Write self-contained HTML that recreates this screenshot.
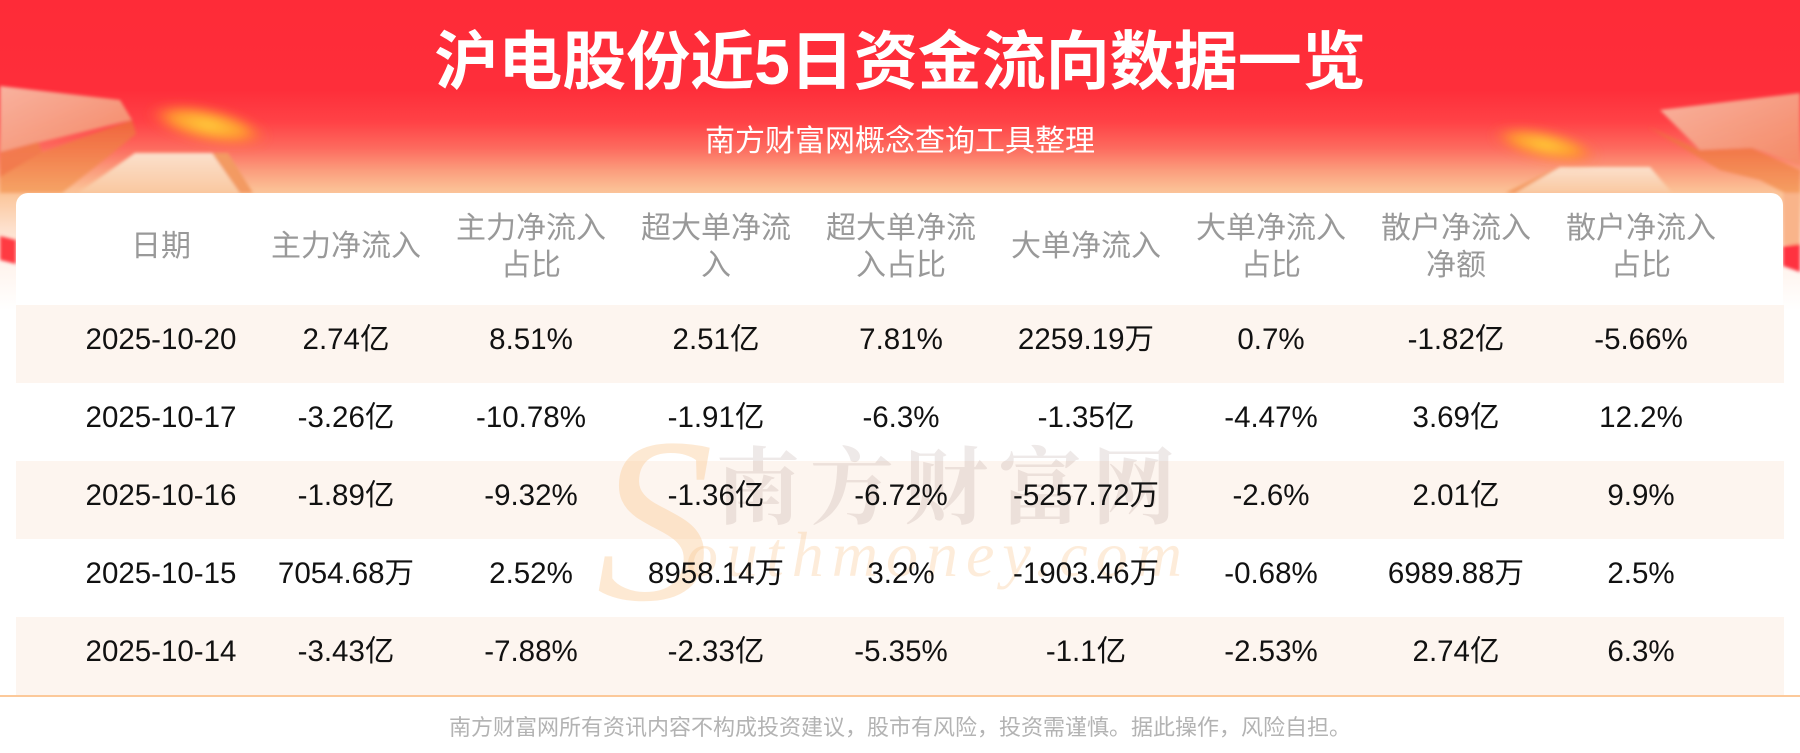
<!DOCTYPE html>
<html>
<head>
<meta charset="utf-8">
<style>
  html,body{margin:0;padding:0;}
  body{width:1800px;height:743px;position:relative;overflow:hidden;background:#fff;
       font-family:"Liberation Sans","Noto Sans CJK SC",sans-serif;}
  .abs{position:absolute;}
  .topbg{left:0;top:0;width:1800px;height:320px;
    background:linear-gradient(to bottom,#fe2b38 0px,#fe2e3a 90px,#ff4246 122px,#fd6a5e 148px,#fb9c7c 170px,#fbbd93 188px,#fbc79d 196px,#fde0cc 228px,#fff3ec 262px,#ffffff 310px);}
  .card{left:16px;top:193px;width:1767px;height:560px;background:#fff;border-radius:12px 12px 0 0;}
  .row{left:16px;width:1768px;height:78px;background:#fdf5ef;}
  .title{left:0;top:22px;width:1800px;text-align:center;font-size:64px;font-weight:bold;line-height:80px;color:#fff;
    font-family:"Liberation Sans","Noto Sans CJK SC",sans-serif;}
  .sub{left:0;top:122px;width:1800px;text-align:center;font-size:30px;line-height:40px;color:#fff;}
  .foot{left:0;top:713px;width:1800px;text-align:center;font-size:22px;line-height:30px;color:#b3b3b3;}
  .hd{width:185px;text-align:center;font-size:30px;line-height:37px;color:#999;white-space:nowrap;}
  .cell{width:185px;text-align:center;font-size:29.5px;line-height:69px;color:#111;white-space:nowrap;}
  .line{left:0;top:695px;width:1800px;height:2px;background:#fcc99a;}
</style>
</head>
<body>
<div class="abs topbg"></div>

<!-- decorations -->
<svg class="abs" style="left:0;top:0" width="1800" height="320" viewBox="0 0 1800 320">
  <defs>
    <filter id="b1" x="-20%" y="-20%" width="140%" height="140%"><feGaussianBlur stdDeviation="1.5"/></filter>
    <filter id="b4" x="-50%" y="-50%" width="200%" height="200%"><feGaussianBlur stdDeviation="5"/></filter>
    <linearGradient id="pk" x1="0" y1="0" x2="1" y2="1">
      <stop offset="0" stop-color="#f8b9a4"/><stop offset="1" stop-color="#f48a66"/>
    </linearGradient>
    <linearGradient id="org" x1="0" y1="0" x2="0" y2="1">
      <stop offset="0" stop-color="#f0683c"/><stop offset="1" stop-color="#f5a060"/>
    </linearGradient>
    <linearGradient id="blk" x1="0" y1="0" x2="0" y2="1">
      <stop offset="0" stop-color="#fbe0cc"/><stop offset="1" stop-color="#f9c8a0"/>
    </linearGradient>
    <radialGradient id="glow">
      <stop offset="0" stop-color="#ffd23c"/><stop offset="0.6" stop-color="#ff9a30"/><stop offset="1" stop-color="#ff6a3a" stop-opacity="0"/>
    </radialGradient>
  </defs>
  <!-- left arrow -->
  <g filter="url(#b1)">
    <polygon points="0,86 120,100 132,120 0,152" fill="url(#pk)" opacity="0.95"/>
    <polygon points="132,120 42,152 38,142 0,160 0,193 62,193 104,160 136,134" fill="url(#org)" opacity="0.9"/>
    <polygon points="0,152 38,142 42,152 0,177" fill="#f27a4c" opacity="0.9"/>
    <polygon points="135,153 212,153 240,193 78,193" fill="url(#blk)"/>
    <polygon points="212,153 228,153 253,193 240,193" fill="#f39a62"/>
    <polygon points="0,236 16,240 16,264 0,260" fill="#ff3b42"/>
  </g>
  <ellipse cx="208" cy="125" rx="62" ry="18" transform="rotate(12 208 125)" fill="url(#glow)" filter="url(#b4)"/>
  <!-- right arrow -->
  <g filter="url(#b1)">
    <polygon points="1660,110 1800,93 1800,165 1752,148 1700,150" fill="url(#pk)" opacity="0.95"/>
    <polygon points="1648,127 1700,150 1752,148 1800,170 1800,200 1785,193 1760,180 1720,170" fill="url(#org)" opacity="0.9"/>
    <polygon points="1560,167 1650,167 1672,193 1515,193" fill="url(#blk)"/>
    <polygon points="1515,193 1560,167 1548,172 1505,193" fill="#f39a62"/>
    <polygon points="1783,193 1800,193 1800,245 1783,245" fill="#f9b48a"/>
    <polygon points="1783,246 1800,244 1800,272 1783,266" fill="#ff3340"/>
  </g>
  <ellipse cx="1545" cy="145" rx="55" ry="15" transform="rotate(12 1545 145)" fill="url(#glow)" filter="url(#b4)"/>
</svg>

<div class="abs title">沪电股份近5日资金流向数据一览</div>
<div class="abs sub">南方财富网概念查询工具整理</div>

<div class="abs card"></div>

<div class="abs row" style="top:305px"></div>
<div class="abs row" style="top:461px"></div>
<div class="abs row" style="top:617px"></div>

<!-- watermark -->
<div class="abs" style="left:716px;top:436px;font-size:84px;line-height:92px;letter-spacing:10px;font-weight:bold;color:rgba(140,110,100,0.15);font-family:'Noto Serif CJK SC','Noto Sans CJK SC',serif;white-space:nowrap;">南方财富网</div>
<div class="abs" style="left:596px;top:410px;font-size:235px;line-height:220px;font-style:italic;color:rgba(249,196,140,0.38);font-family:'Liberation Serif',serif;">S</div>
<div class="abs" style="left:686px;top:515px;font-size:64px;line-height:80px;letter-spacing:8px;font-style:italic;color:rgba(249,196,140,0.32);font-family:'Liberation Serif',serif;white-space:nowrap;">outhmoney.com</div>

<div class="abs line"></div>

<!-- headers -->
<div class="abs hd" style="left:68.5px;top:228px">日期</div>
<div class="abs hd" style="left:253.5px;top:228px">主力净流入</div>
<div class="abs hd" style="left:438.5px;top:209.5px">主力净流入<br>占比</div>
<div class="abs hd" style="left:623.5px;top:209.5px">超大单净流<br>入</div>
<div class="abs hd" style="left:808.5px;top:209.5px">超大单净流<br>入占比</div>
<div class="abs hd" style="left:993.5px;top:228px">大单净流入</div>
<div class="abs hd" style="left:1178.5px;top:209.5px">大单净流入<br>占比</div>
<div class="abs hd" style="left:1363.5px;top:209.5px">散户净流入<br>净额</div>
<div class="abs hd" style="left:1548.5px;top:209.5px">散户净流入<br>占比</div>

<!-- row 1 -->
<div class="abs cell" style="left:68.5px;top:305px">2025-10-20</div>
<div class="abs cell" style="left:253.5px;top:305px">2.74亿</div>
<div class="abs cell" style="left:438.5px;top:305px">8.51%</div>
<div class="abs cell" style="left:623.5px;top:305px">2.51亿</div>
<div class="abs cell" style="left:808.5px;top:305px">7.81%</div>
<div class="abs cell" style="left:993.5px;top:305px">2259.19万</div>
<div class="abs cell" style="left:1178.5px;top:305px">0.7%</div>
<div class="abs cell" style="left:1363.5px;top:305px">-1.82亿</div>
<div class="abs cell" style="left:1548.5px;top:305px">-5.66%</div>
<!-- row 2 -->
<div class="abs cell" style="left:68.5px;top:383px">2025-10-17</div>
<div class="abs cell" style="left:253.5px;top:383px">-3.26亿</div>
<div class="abs cell" style="left:438.5px;top:383px">-10.78%</div>
<div class="abs cell" style="left:623.5px;top:383px">-1.91亿</div>
<div class="abs cell" style="left:808.5px;top:383px">-6.3%</div>
<div class="abs cell" style="left:993.5px;top:383px">-1.35亿</div>
<div class="abs cell" style="left:1178.5px;top:383px">-4.47%</div>
<div class="abs cell" style="left:1363.5px;top:383px">3.69亿</div>
<div class="abs cell" style="left:1548.5px;top:383px">12.2%</div>
<!-- row 3 -->
<div class="abs cell" style="left:68.5px;top:461px">2025-10-16</div>
<div class="abs cell" style="left:253.5px;top:461px">-1.89亿</div>
<div class="abs cell" style="left:438.5px;top:461px">-9.32%</div>
<div class="abs cell" style="left:623.5px;top:461px">-1.36亿</div>
<div class="abs cell" style="left:808.5px;top:461px">-6.72%</div>
<div class="abs cell" style="left:993.5px;top:461px">-5257.72万</div>
<div class="abs cell" style="left:1178.5px;top:461px">-2.6%</div>
<div class="abs cell" style="left:1363.5px;top:461px">2.01亿</div>
<div class="abs cell" style="left:1548.5px;top:461px">9.9%</div>
<!-- row 4 -->
<div class="abs cell" style="left:68.5px;top:539px">2025-10-15</div>
<div class="abs cell" style="left:253.5px;top:539px">7054.68万</div>
<div class="abs cell" style="left:438.5px;top:539px">2.52%</div>
<div class="abs cell" style="left:623.5px;top:539px">8958.14万</div>
<div class="abs cell" style="left:808.5px;top:539px">3.2%</div>
<div class="abs cell" style="left:993.5px;top:539px">-1903.46万</div>
<div class="abs cell" style="left:1178.5px;top:539px">-0.68%</div>
<div class="abs cell" style="left:1363.5px;top:539px">6989.88万</div>
<div class="abs cell" style="left:1548.5px;top:539px">2.5%</div>
<!-- row 5 -->
<div class="abs cell" style="left:68.5px;top:617px">2025-10-14</div>
<div class="abs cell" style="left:253.5px;top:617px">-3.43亿</div>
<div class="abs cell" style="left:438.5px;top:617px">-7.88%</div>
<div class="abs cell" style="left:623.5px;top:617px">-2.33亿</div>
<div class="abs cell" style="left:808.5px;top:617px">-5.35%</div>
<div class="abs cell" style="left:993.5px;top:617px">-1.1亿</div>
<div class="abs cell" style="left:1178.5px;top:617px">-2.53%</div>
<div class="abs cell" style="left:1363.5px;top:617px">2.74亿</div>
<div class="abs cell" style="left:1548.5px;top:617px">6.3%</div>

<div class="abs foot">南方财富网所有资讯内容不构成投资建议，股市有风险，投资需谨慎。据此操作，风险自担。</div>
</body>
</html>
